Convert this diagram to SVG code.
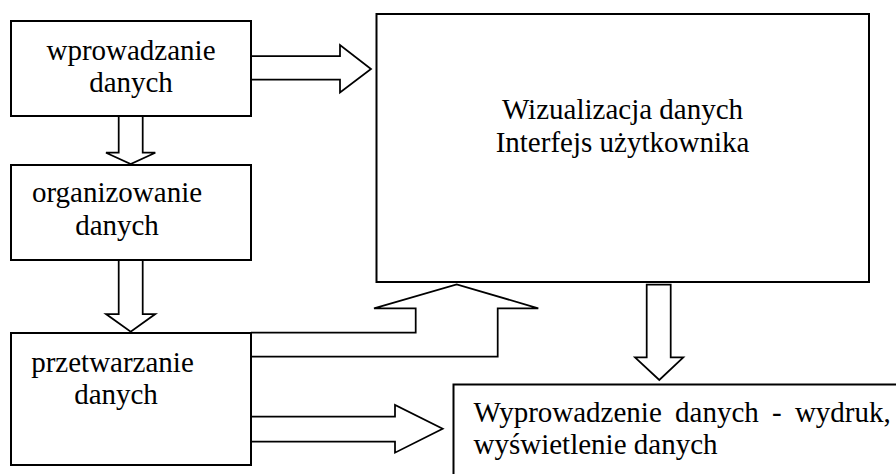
<svg xmlns="http://www.w3.org/2000/svg" width="896" height="474" viewBox="0 0 896 474">
<style>
.box{fill:#fff;stroke:#000;stroke-width:2}
.arr{fill:#fff;stroke:#000;stroke-width:1.75;stroke-linejoin:miter}
text{font-family:"Liberation Serif","Times New Roman",serif;font-size:29px;fill:#000}
.c{text-anchor:middle}
</style>
<rect width="896" height="474" fill="#fff"/>
<g id="connectors">
<polyline class="arr" points="251,56 340,56 340,45 371,69 340,92.5 340,79.5 251,79.5"/>
<polyline class="arr" points="118.7,116 118.7,152.7 106,152.7 130.7,164 155.3,152.7 142.7,152.7 142.7,116"/>
<polyline class="arr" points="118.7,260 118.7,314 106,314 130.7,331.7 155.3,314 142.7,314 142.7,260"/>
<polyline class="arr" points="251,332.5 415.7,332.5 415.7,308.3 374,308.3 456.7,284.3 538.3,308.3 497.7,308.3 497.7,356.7 251,356.7"/>
<polygon class="arr" points="646.7,284.5 670.7,284.5 670.7,357.3 683.3,357.3 659.3,380 635,357.3 646.7,357.3"/>
<polyline class="arr" points="251,416.7 395,416.7 395,405 442.7,428.7 395,452.7 395,441.7 251,441.7"/>
</g>
<g id="wprowadzanie">
<rect class="box" x="11" y="21" width="240" height="95"/>
<text class="c" x="131" y="59.5">wprowadzanie</text>
<text class="c" x="131" y="91.5">danych</text>
</g>
<g id="organizowanie">
<rect class="box" x="11" y="165" width="240" height="95"/>
<text class="c" x="117" y="202">organizowanie</text>
<text class="c" x="117" y="235">danych</text>
</g>
<g id="przetwarzanie">
<rect class="box" x="11" y="333" width="240" height="132"/>
<text class="c" x="112.5" y="371.5">przetwarzanie</text>
<text class="c" x="116" y="404">danych</text>
</g>
<g id="wizualizacja">
<rect class="box" x="376.5" y="14" width="492.5" height="268"/>
<text class="c" x="622.5" y="119">Wizualizacja danych</text>
<text class="c" x="622.5" y="152">Interfejs użytkownika</text>
</g>
<g id="wyprowadzenie">
<rect class="box" x="453.5" y="384.5" width="460" height="100"/>
<text x="473.5" y="421.5" word-spacing="6">Wyprowadzenie danych - wydruk,</text>
<text x="473.5" y="454">wyświetlenie danych</text>
</g>
</svg>
